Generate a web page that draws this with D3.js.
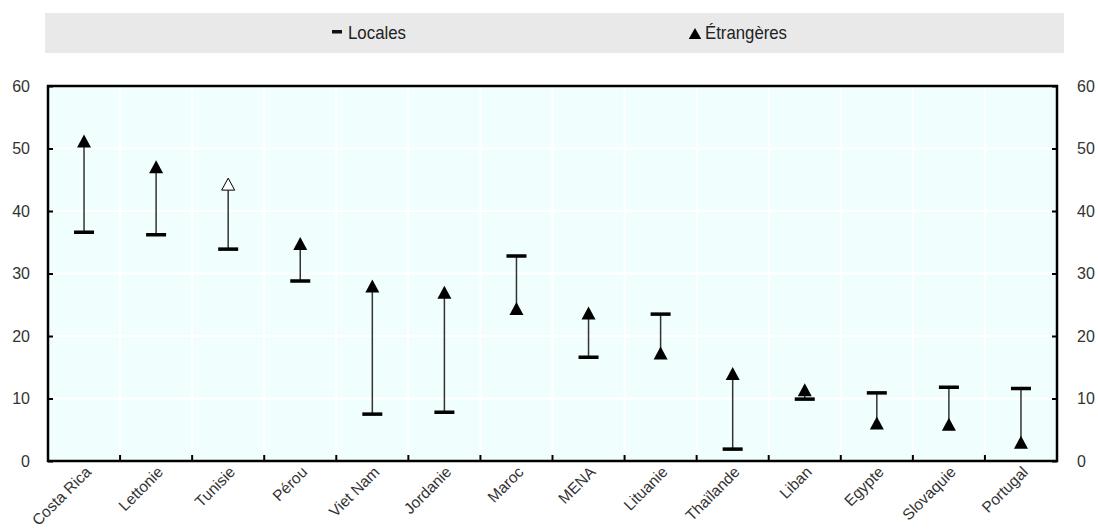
<!DOCTYPE html>
<html><head><meta charset="utf-8">
<script src="https://cdn.jsdelivr.net/npm/d3@7"></script>
<style>body{margin:0;background:#fff;} text{font-family:"Liberation Sans",Arial,sans-serif;}</style>
</head><body>
<svg id="c" width="1098" height="532"></svg>
<script>
const categories = ["Costa Rica","Lettonie","Tunisie","Pérou","Viet Nam","Jordanie","Maroc","MENA","Lituanie","Thaïlande","Liban","Egypte","Slovaquie","Portugal"];
const locales = [36.6,36.2,33.9,28.8,7.5,7.8,32.8,16.6,23.5,1.9,9.9,10.9,11.8,11.6];
const etrangeres = [51.2,47.1,44.3,34.8,28.0,27.0,24.4,23.7,17.3,14.0,11.4,6.1,5.9,3.0];
const hollow = ["Tunisie"];
const yTicks = [0,10,20,30,40,50,60];
const legendLabels = ["Locales","Étrangères"];

const svg = d3.select("#c");
const L=48, R=1057, T=86, B=461;
const x = d3.scaleBand().domain(categories).range([L,R]).padding(0);
const y = d3.scaleLinear().domain([0,60]).range([B,T]);
const tri = (w,h)=>`M0,${-h/2}L${w/2},${h/2}L${-w/2},${h/2}Z`;

// legend
svg.append("rect").attr("x",45).attr("y",13).attr("width",1019).attr("height",40).attr("fill","#e9e9e9");
svg.append("rect").attr("x",332).attr("y",30).attr("width",10).attr("height",3.5).attr("fill","#111");
svg.append("text").attr("x",348).attr("y",39).attr("font-size",19).attr("fill","#222")
  .attr("textLength",58).attr("lengthAdjust","spacingAndGlyphs").text(legendLabels[0]);
svg.append("path").attr("d",tri(12.5,11)).attr("transform","translate(695,33.5)").attr("fill","#000");
svg.append("text").attr("x",705).attr("y",39).attr("font-size",19).attr("fill","#222")
  .attr("textLength",82).attr("lengthAdjust","spacingAndGlyphs").text(legendLabels[1]);

// plot background
svg.append("rect").attr("x",L).attr("y",T).attr("width",R-L).attr("height",B-T).attr("fill","#f0fefe");
// grid
svg.append("g").selectAll("line").data(yTicks.slice(1,-1)).join("line")
  .attr("x1",L).attr("x2",R).attr("y1",d=>y(d)).attr("y2",d=>y(d)).attr("stroke","#fff").attr("stroke-width",2);
svg.append("g").selectAll("line").data(categories.slice(1)).join("line")
  .attr("x1",d=>x(d)).attr("x2",d=>x(d)).attr("y1",T).attr("y2",B).attr("stroke","#fff").attr("stroke-width",2);

// axes
const yl = svg.append("g").attr("transform",`translate(${L},0)`).call(d3.axisLeft(y).tickValues(yTicks).tickSize(-5).tickPadding(18));
const yr = svg.append("g").attr("transform",`translate(${R},0)`).call(d3.axisRight(y).tickValues(yTicks).tickSize(-5).tickPadding(20));
const xb = svg.append("g").attr("transform",`translate(0,${B})`).call(d3.axisBottom(x).tickValues(categories.slice(1)).tickSize(-6).tickFormat(""));
xb.selectAll(".tick line").attr("transform",`translate(${-x.bandwidth()/2},0)`);
[yl,yr,xb].forEach(g=>{g.select(".domain").remove();g.selectAll(".tick line").attr("stroke","#000").attr("stroke-width",2);
  g.selectAll("text").attr("font-size",16).attr("fill","#333").attr("font-family","'Liberation Sans',Arial,sans-serif");});
// frame
svg.append("rect").attr("x",L).attr("y",T).attr("width",R-L).attr("height",B-T).attr("fill","none").attr("stroke","#000").attr("stroke-width",2.5);

// category labels
svg.append("g").selectAll("text").data(categories).join("text")
  .attr("transform",d=>`translate(${x(d)+x.bandwidth()/2+8},${B+12}) rotate(-45)`)
  .attr("text-anchor","end").attr("font-size",15.5).attr("fill","#333").text(d=>d);

// marks
const g = svg.append("g");
categories.forEach((c,i)=>{
  const cx = x(c)+x.bandwidth()/2;
  g.append("line").attr("x1",cx).attr("x2",cx).attr("y1",y(locales[i])).attr("y2",y(etrangeres[i]))
    .attr("stroke","#333").attr("stroke-width",1.5);
  g.append("rect").attr("x",cx-10).attr("y",y(locales[i])-1.75).attr("width",20).attr("height",3.5).attr("fill","#000");
  const h = hollow.includes(c);
  g.append("path").attr("d",tri(h?13:14,h?12:13)).attr("transform",`translate(${cx},${y(etrangeres[i])})`)
    .attr("fill",h?"#fff":"#000").attr("stroke","#000").attr("stroke-width",h?1:0);
});
</script>
</body></html>
